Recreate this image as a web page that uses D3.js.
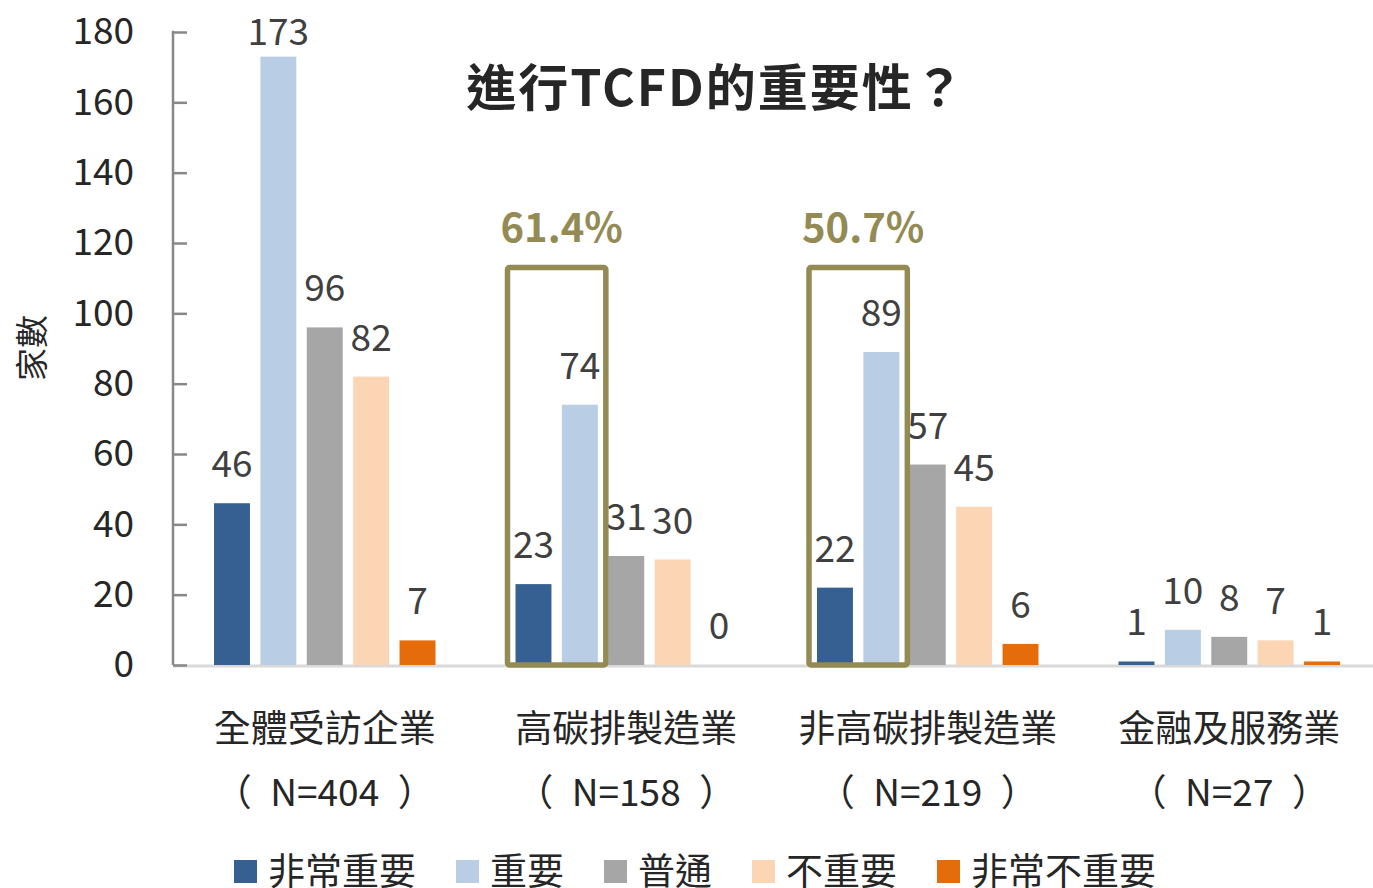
<!DOCTYPE html>
<html>
<head>
  <meta charset="utf-8">
  <script src="https://d3js.org/d3.v7.min.js"></script>
  <style>
    body { margin:0; background:#fff; }
    svg { display:block; }
    text { font-family: "Noto Sans CJK TC", "Noto Sans", sans-serif; }
  </style>
</head>
<body>
<script>
  // chart data
  const categories = ["全體受訪企業", "高碳排製造業", "非高碳排製造業", "金融及服務業"];
  const sampleSizes = ["（\u2002N=404\u2002）", "（\u2002N=158\u2002）", "（\u2002N=219\u2002）", "（\u2002N=27\u2002）"];
  const seriesNames = ["非常重要", "重要", "普通", "不重要", "非常不重要"];
  const veryImportant = [46, 23, 22, 1];
  const important = [173, 74, 89, 10];
  const neutral = [96, 31, 57, 8];
  const notImportant = [82, 30, 45, 7];
  const veryUnimportant = [7, 0, 6, 1];
  const yTicks = [0, 20, 40, 60, 80, 100, 120, 140, 160, 180];
  // highlighted groups (first two series) with share label
  const highlightGroups = ["高碳排製造業", "非高碳排製造業"];
  const highlightLabels = ["61.4%", "50.7%"];
  const highlightTop = 113;

  const colours = ["#376092", "#B9CDE5", "#A6A6A6", "#FCD5B5", "#E46C0A"];
  const series = [veryImportant, important, neutral, notImportant, veryUnimportant];

  const width = 1373, height = 888;
  const margin = { top: 32, right: 0, bottom: 223, left: 174 };
  const innerWidth = width - margin.left - margin.right;
  const innerHeight = height - margin.top - margin.bottom;

  const svg = d3.select("body").append("svg")
    .attr("width", width)
    .attr("height", height);

  const g = svg.append("g")
    .attr("transform", `translate(${margin.left},${margin.top})`);

  const x0 = d3.scaleBand()
    .domain(categories)
    .range([0, 1206]);

  const x1 = d3.scaleBand()
    .domain(seriesNames)
    .range([40, x0.bandwidth() - 40])
    .paddingInner(0.225);

  const y = d3.scaleLinear()
    .domain([0, 180])
    .range([innerHeight, 0]);

  // bottom baseline
  g.append("line")
    .attr("x1", -1).attr("x2", innerWidth)
    .attr("y1", y(0) + 1).attr("y2", y(0) + 1)
    .attr("stroke", "#D9D9D9")
    .attr("stroke-width", 3);

  // y axis with inward ticks
  const yAxis = d3.axisLeft(y)
    .tickValues(yTicks)
    .tickSize(-14)
    .tickPadding(39);
  const yg = g.append("g").attr("transform", "translate(-1,0)").call(yAxis);
  yg.select(".domain").attr("stroke", "#888").attr("stroke-width", 2.5)
    .attr("d", `M0,${y(180) - 1.25}V${y(0)}`);
  yg.selectAll(".tick line").attr("stroke", "#888").attr("stroke-width", 2.5);
  yg.selectAll(".tick text")
    .attr("fill", "#262626")
    .style("font-size", "37px")
    .style("font-family", "'Noto Sans CJK TC', sans-serif");

  // rows of bar data
  const rows = [];
  categories.forEach((c, ci) => {
    seriesNames.forEach((s, si) => {
      rows.push({ cat: c, name: s, value: series[si][ci], colour: colours[si] });
    });
  });

  const groups = g.selectAll(".group")
    .data(categories)
    .join("g")
    .attr("class", "group")
    .attr("transform", d => `translate(${x0(d)},0)`);

  groups.selectAll("rect")
    .data(c => rows.filter(r => r.cat === c))
    .join("rect")
    .attr("x", d => x1(d.name))
    .attr("width", x1.bandwidth())
    .attr("y", d => y(d.value))
    .attr("height", d => y(0) - y(d.value))
    .attr("fill", d => d.colour);

  groups.selectAll(".val")
    .data(c => rows.filter(r => r.cat === c))
    .join("text")
    .attr("class", "val")
    .attr("x", d => x1(d.name) + x1.bandwidth() / 2)
    .attr("y", d => Math.max(y(d.value) - 26, 13))
    .attr("text-anchor", "middle")
    .attr("fill", "#404040")
    .style("font-size", "37px")
    .text(d => d.value);

  // highlight boxes
  highlightGroups.forEach((c, i) => {
    const left = x0(c) + x1(seriesNames[0]) - 8;
    const right = x0(c) + x1(seriesNames[1]) + x1.bandwidth() + 8;
    g.append("rect")
      .attr("x", left)
      .attr("y", y(highlightTop))
      .attr("width", right - left)
      .attr("height", y(0) - y(highlightTop))
      .attr("rx", 2)
      .attr("fill", "none")
      .attr("stroke", "#948A54")
      .attr("stroke-width", 5.5);
    g.append("text")
      .attr("x", (left + right) / 2 + 5)
      .attr("y", y(highlightTop) - 26)
      .attr("text-anchor", "middle")
      .attr("fill", "#948A54")
      .style("font-size", "40px")
      .style("font-weight", "bold")
      .text(highlightLabels[i]);
  });

  // category labels
  groups.append("text")
    .attr("x", x0.bandwidth() / 2)
    .attr("y", innerHeight + 77)
    .attr("text-anchor", "middle")
    .attr("fill", "#262626")
    .style("font-size", "37px")
    .text(d => d);
  groups.append("text")
    .attr("x", x0.bandwidth() / 2)
    .attr("y", innerHeight + 141)
    .attr("text-anchor", "middle")
    .attr("fill", "#262626")
    .style("font-size", "37px")
    .text((d, i) => sampleSizes[i]);

  // title
  svg.append("text")
    .attr("x", 716)
    .attr("y", 106)
    .attr("text-anchor", "middle")
    .attr("fill", "#262626")
    .style("font-size", "50px")
    .style("font-weight", "bold")
    .style("letter-spacing", "2px")
    .text("進行TCFD的重要性？");

  // y axis title
  svg.append("text")
    .attr("transform", "translate(44,348) rotate(-90)")
    .attr("text-anchor", "middle")
    .attr("fill", "#262626")
    .style("font-size", "33px")
    .text("家數");

  // legend
  const legend = svg.append("g").attr("transform", "translate(234,860)");
  let lx = 0;
  seriesNames.forEach((s, i) => {
    const item = legend.append("g").attr("transform", `translate(${lx},0)`);
    item.append("rect")
      .attr("width", 23).attr("height", 23)
      .attr("fill", colours[i]);
    const t = item.append("text")
      .attr("x", 34)
      .attr("y", 25)
      .attr("fill", "#262626")
      .style("font-size", "37px")
      .text(s);
    lx += 34 + t.node().getComputedTextLength() + 40;
  });
</script>
</body>
</html>
